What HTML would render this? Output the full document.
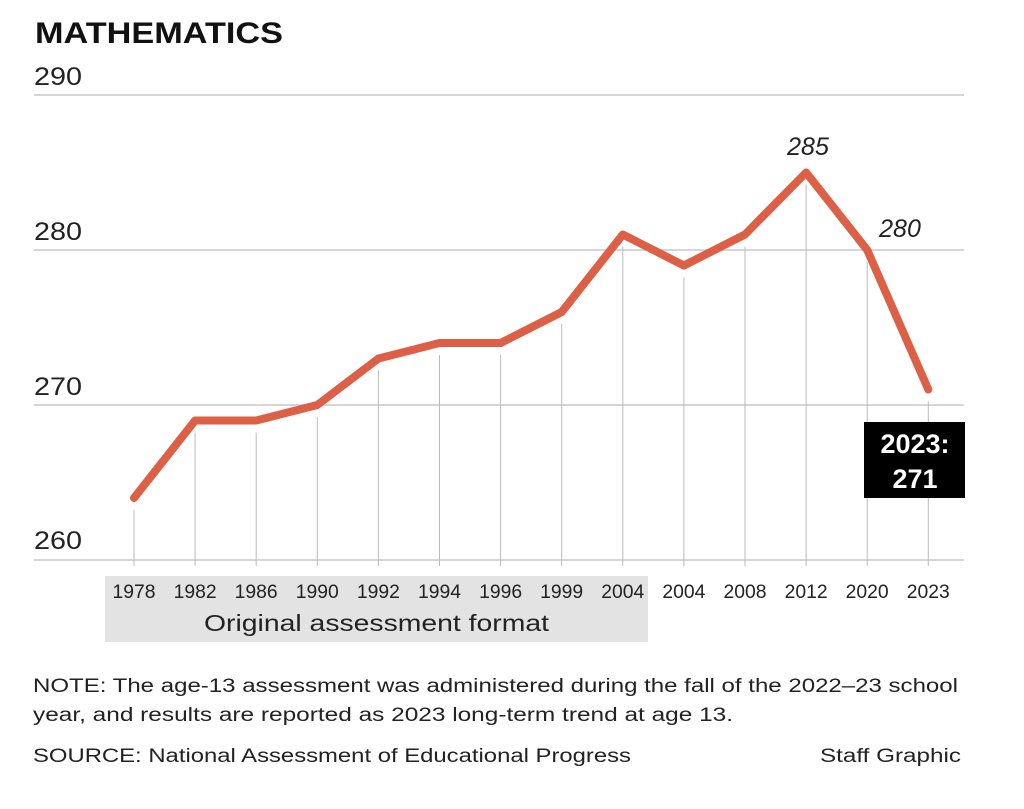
<!DOCTYPE html>
<html><head><style>
body{margin:0;background:#fff;width:1024px;height:804px;overflow:hidden;font-family:"Liberation Sans",sans-serif;}
</style></head><body>
<svg width="1024" height="804" xmlns="http://www.w3.org/2000/svg" font-family="Liberation Sans, sans-serif">
<text x="35" y="43" font-size="30" font-weight="bold" fill="#111" textLength="248" lengthAdjust="spacingAndGlyphs">MATHEMATICS</text>
<rect x="105" y="576" width="543" height="66" fill="#e3e3e3"/>
<g stroke="#c8c8c8" stroke-width="1.5">
<line x1="34" y1="95" x2="964" y2="95"/>
<line x1="34" y1="250" x2="964" y2="250"/>
<line x1="34" y1="405" x2="964" y2="405"/>
<line x1="34" y1="560" x2="964" y2="560"/>
</g>
<g fill="#222" font-size="25">
<text x="34" y="85" textLength="48" lengthAdjust="spacingAndGlyphs">290</text>
<text x="34" y="240" textLength="48" lengthAdjust="spacingAndGlyphs">280</text>
<text x="34" y="395" textLength="48" lengthAdjust="spacingAndGlyphs">270</text>
<text x="34" y="549" textLength="48" lengthAdjust="spacingAndGlyphs">260</text>
</g>
<g id="v" stroke="#bbb" stroke-width="1"></g>
<g id="xl" fill="#222" font-size="19" text-anchor="middle"></g>
<text x="204" y="631" font-size="23" fill="#222" textLength="345" lengthAdjust="spacingAndGlyphs">Original assessment format</text>
<polyline id="ln" fill="none" stroke="#dd5f45" stroke-width="8" stroke-linecap="round" stroke-linejoin="round"/>
<g font-size="25" font-style="italic" fill="#222" text-anchor="middle">
<text x="808" y="155">285</text>
<text x="900" y="237">280</text>
</g>
<rect x="864" y="422" width="101" height="76" fill="#000"/>
<g fill="#fff" font-size="27" font-weight="bold" text-anchor="middle">
<text x="915" y="453">2023:</text>
<text x="915" y="488">271</text>
</g>
<g fill="#222" font-size="19">
<text x="33" y="692" textLength="925" lengthAdjust="spacingAndGlyphs">NOTE: The age-13 assessment was administered during the fall of the 2022–23 school</text>
<text x="33" y="721" textLength="700" lengthAdjust="spacingAndGlyphs">year, and results are reported as 2023 long-term trend at age 13.</text>
<text x="33" y="762" textLength="598" lengthAdjust="spacingAndGlyphs">SOURCE: National Assessment of Educational Progress</text>
<text x="820" y="762" textLength="141" lengthAdjust="spacingAndGlyphs">Staff Graphic</text>
</g>
</svg>
<script>
var yrs=["1978","1982","1986","1990","1992","1994","1996","1999","2004","2004","2008","2012","2020","2023"];
var d=[264,269,269,270,273,274,274,276,281,279,281,285,280,271];
var ns="http://www.w3.org/2000/svg",pts=[];
var v=document.getElementById("v"),xl=document.getElementById("xl");
for(var i=0;i<14;i++){var x=134+i*61.1,y=560-(d[i]-260)*15.5;pts.push(x+","+y);
var l=document.createElementNS(ns,"line");l.setAttribute("x1",x);l.setAttribute("x2",x);l.setAttribute("y1",y+12);l.setAttribute("y2",566);v.appendChild(l);
var t=document.createElementNS(ns,"text");t.setAttribute("x",x);t.setAttribute("y",598);t.setAttribute("textLength","43");t.setAttribute("lengthAdjust","spacingAndGlyphs");t.textContent=yrs[i];xl.appendChild(t);}
document.getElementById("ln").setAttribute("points",pts.join(" "));
</script>
</body></html>
